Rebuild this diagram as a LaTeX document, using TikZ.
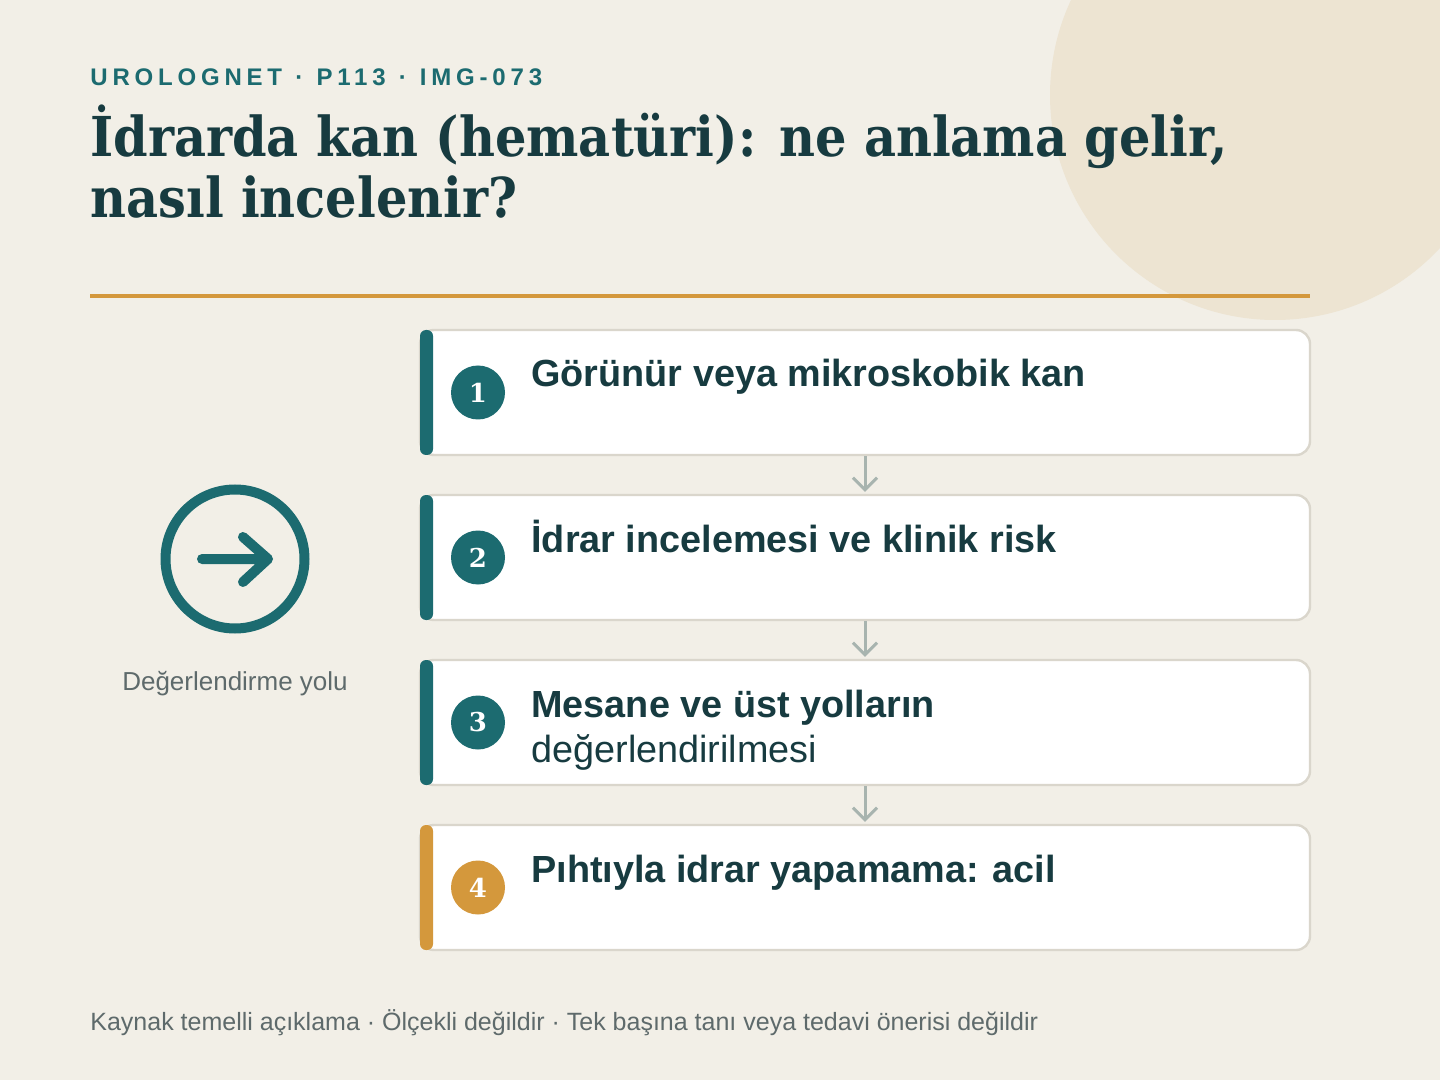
\documentclass[tikz,border=0pt]{standalone}
\usepackage{fontspec}
\usepackage{xcolor}
\usepackage{tikz}
\usetikzlibrary{arrows.meta}
\setmainfont{Liberation Sans}
\newfontfamily\titlefont{DejaVu Serif Condensed}
\newfontfamily\numfont{DejaVu Serif}
\newfontfamily\kickerfont[LetterSpace=20, WordSpace=1.15]{Liberation Sans}
\definecolor{paper}{HTML}{F2EFE7}
\definecolor{blob}{HTML}{EDE4D2}
\definecolor{teal}{HTML}{1C6B70}
\definecolor{ink}{HTML}{173B40}
\definecolor{gold}{HTML}{D4983C}
\definecolor{flowgray}{HTML}{A8B4AF}
\definecolor{edge}{HTML}{DAD6CC}
\definecolor{muted}{HTML}{5E6A6B}
\tikzset{
  card/.style={draw=edge, line width=1.2pt, fill=white, rounded corners=7pt,
    minimum width=445pt, minimum height=62.5pt, inner sep=0pt},
  bar/.style={fill=#1, rounded corners=3pt},
  num/.style={circle, fill=#1, text=white, minimum size=27pt, inner sep=0pt,
    font=\numfont\bfseries\fontsize{13}{13}\selectfont},
  steptext/.style={text=ink, anchor=base west, inner sep=0pt, font=\bfseries\fontsize{18.9}{22}\selectfont},
  flow/.style={draw=flowgray, line width=1.5pt, -{Straight Barb[length=6pt, width=12pt]}, shorten >=1pt},
  note/.style={text=muted, inner sep=0pt, font=\fontsize{12.5}{14}\selectfont}
}

\begin{document}
\begin{tikzpicture}[x=0.5pt, y=-0.5pt]
\useasboundingbox (0,0) rectangle (1440,1080);
\fill[paper] (0,0) rectangle (1440,1080);
\begin{scope}
\clip (0,0) rectangle (1440,1080);
\fill[blob] (1275,95) circle (225);
\end{scope}
% header
\node[text=teal, anchor=base west, inner sep=0pt, font=\kickerfont\bfseries\fontsize{12}{14}\selectfont] (kicker) at (90,86) {UROLOGNET · P113 · IMG-073};
\node[text=ink, anchor=base west, inner sep=0pt, font=\titlefont\bfseries\fontsize{27.5}{30}\selectfont] (title1) at (90,157) {İdrarda kan (hematüri): ne anlama gelir,};
\node[text=ink, anchor=base west, inner sep=0pt, font=\titlefont\bfseries\fontsize{27.5}{30}\selectfont] (title2) at (90,218) {nasıl incelenir?};
\draw[gold, line width=2pt] (90,296) -- (1310,296);
% icon
\draw[teal, line width=5pt] (235,559) circle (69.5);
\draw[teal, line width=5pt, line cap=round, line join=round] (202,559) -- (268,559) (243,537) -- (268,559) -- (243,582);
\node[note, anchor=base, font=\fontsize{13}{15}\selectfont] (pathlabel) at (235,690) {Değerlendirme yolu};
% steps
\node[card] (c1) at (865,392.5) {};
\node[card] (c2) at (865,557.5) {};
\node[card] (c3) at (865,722.5) {};
\node[card] (c4) at (865,887.5) {};
\fill[bar=teal] (420,330) rectangle (433,455);
\fill[bar=teal] (420,495) rectangle (433,620);
\fill[bar=teal] (420,660) rectangle (433,785);
\fill[bar=gold] (420,825) rectangle (433,950);
\node[num=teal] (n1) at (478,392.5) {1};
\node[num=teal] (n2) at (478,557.5) {2};
\node[num=teal] (n3) at (478,722.5) {3};
\node[num=gold] (n4) at (478,887.5) {4};
\node[steptext] (t1) at (531,387) {Görünür veya mikroskobik kan};
\node[steptext] (t2) at (531,552) {İdrar incelemesi ve klinik risk};
\node[steptext] (t3) at (531,717) {Mesane ve üst yolların};
\node[steptext, font=\fontsize{18.9}{22}\selectfont] (t3b) at (531,762) {değerlendirilmesi};
\node[steptext] (t4) at (531,882) {Pıhtıyla idrar yapamama: acil};
\draw[flow] (c1.south) -- (c2.north);
\draw[flow] (c2.south) -- (c3.north);
\draw[flow] (c3.south) -- (c4.north);
% footer
\node[note, anchor=base west] (footer) at (90,1030) {Kaynak temelli açıklama · Ölçekli değildir · Tek başına tanı veya tedavi önerisi değildir};
\end{tikzpicture}
\end{document}
